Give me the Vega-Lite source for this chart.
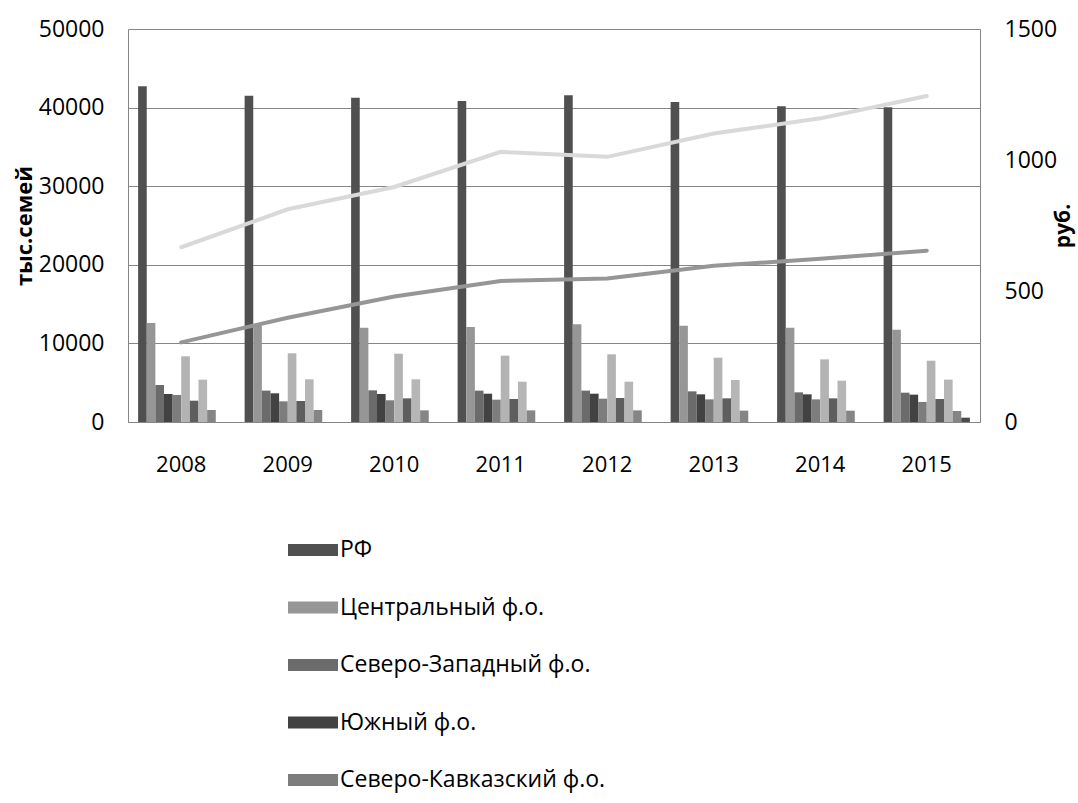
{
  "$schema": "https://vega.github.io/schema/vega-lite/v6.json",
  "autosize": {"type": "none"},
  "padding": {"left": 128, "top": 29, "right": 98, "bottom": 381},
  "width": 852,
  "height": 393,
  "background": "white",
  "config": {
    "font": "Open Sans",
    "view": {"stroke": null},
    "axis": {
      "labelColor": "#000000",
      "titleColor": "#000000",
      "domainColor": "#868686",
      "gridColor": "#868686",
      "ticks": false
    }
  },
  "datasets": {
    "bars": [
      {"year": "2008", "district": "РФ", "families": 42710},
      {"year": "2008", "district": "Центральный ф.о.", "families": 12600},
      {"year": "2008", "district": "Северо-Западный ф.о.", "families": 4710},
      {"year": "2008", "district": "Южный ф.о.", "families": 3560},
      {"year": "2008", "district": "Северо-Кавказский ф.о.", "families": 3440},
      {"year": "2008", "district": "Приволжский ф.о.", "families": 8360},
      {"year": "2008", "district": "Уральский ф.о.", "families": 2710},
      {"year": "2008", "district": "Сибирский ф.о.", "families": 5390},
      {"year": "2008", "district": "Дальневосточный ф.о.", "families": 1530},

      {"year": "2009", "district": "РФ", "families": 41520},
      {"year": "2009", "district": "Центральный ф.о.", "families": 12260},
      {"year": "2009", "district": "Северо-Западный ф.о.", "families": 3990},
      {"year": "2009", "district": "Южный ф.о.", "families": 3650},
      {"year": "2009", "district": "Северо-Кавказский ф.о.", "families": 2630},
      {"year": "2009", "district": "Приволжский ф.о.", "families": 8740},
      {"year": "2009", "district": "Уральский ф.о.", "families": 2670},
      {"year": "2009", "district": "Сибирский ф.о.", "families": 5430},
      {"year": "2009", "district": "Дальневосточный ф.о.", "families": 1530},

      {"year": "2010", "district": "РФ", "families": 41260},
      {"year": "2010", "district": "Центральный ф.о.", "families": 12000},
      {"year": "2010", "district": "Северо-Западный ф.о.", "families": 4030},
      {"year": "2010", "district": "Южный ф.о.", "families": 3560},
      {"year": "2010", "district": "Северо-Кавказский ф.о.", "families": 2760},
      {"year": "2010", "district": "Приволжский ф.о.", "families": 8690},
      {"year": "2010", "district": "Уральский ф.о.", "families": 3010},
      {"year": "2010", "district": "Сибирский ф.о.", "families": 5430},
      {"year": "2010", "district": "Дальневосточный ф.о.", "families": 1480},

      {"year": "2011", "district": "РФ", "families": 40840},
      {"year": "2011", "district": "Центральный ф.о.", "families": 12090},
      {"year": "2011", "district": "Северо-Западный ф.о.", "families": 3990},
      {"year": "2011", "district": "Южный ф.о.", "families": 3600},
      {"year": "2011", "district": "Северо-Кавказский ф.о.", "families": 2840},
      {"year": "2011", "district": "Приволжский ф.о.", "families": 8440},
      {"year": "2011", "district": "Уральский ф.о.", "families": 2930},
      {"year": "2011", "district": "Сибирский ф.о.", "families": 5130},
      {"year": "2011", "district": "Дальневосточный ф.о.", "families": 1480},

      {"year": "2012", "district": "РФ", "families": 41560},
      {"year": "2012", "district": "Центральный ф.о.", "families": 12430},
      {"year": "2012", "district": "Северо-Западный ф.о.", "families": 3990},
      {"year": "2012", "district": "Южный ф.о.", "families": 3600},
      {"year": "2012", "district": "Северо-Кавказский ф.о.", "families": 2970},
      {"year": "2012", "district": "Приволжский ф.о.", "families": 8610},
      {"year": "2012", "district": "Уральский ф.о.", "families": 3050},
      {"year": "2012", "district": "Сибирский ф.о.", "families": 5130},
      {"year": "2012", "district": "Дальневосточный ф.о.", "families": 1480},

      {"year": "2013", "district": "РФ", "families": 40710},
      {"year": "2013", "district": "Центральный ф.о.", "families": 12250},
      {"year": "2013", "district": "Северо-Западный ф.о.", "families": 3900},
      {"year": "2013", "district": "Южный ф.о.", "families": 3520},
      {"year": "2013", "district": "Северо-Кавказский ф.о.", "families": 2880},
      {"year": "2013", "district": "Приволжский ф.о.", "families": 8180},
      {"year": "2013", "district": "Уральский ф.о.", "families": 3010},
      {"year": "2013", "district": "Сибирский ф.о.", "families": 5340},
      {"year": "2013", "district": "Дальневосточный ф.о.", "families": 1440},

      {"year": "2014", "district": "РФ", "families": 40160},
      {"year": "2014", "district": "Центральный ф.о.", "families": 12000},
      {"year": "2014", "district": "Северо-Западный ф.о.", "families": 3770},
      {"year": "2014", "district": "Южный ф.о.", "families": 3520},
      {"year": "2014", "district": "Северо-Кавказский ф.о.", "families": 2880},
      {"year": "2014", "district": "Приволжский ф.о.", "families": 7970},
      {"year": "2014", "district": "Уральский ф.о.", "families": 3010},
      {"year": "2014", "district": "Сибирский ф.о.", "families": 5260},
      {"year": "2014", "district": "Дальневосточный ф.о.", "families": 1440},

      {"year": "2015", "district": "РФ", "families": 40030},
      {"year": "2015", "district": "Центральный ф.о.", "families": 11750},
      {"year": "2015", "district": "Северо-Западный ф.о.", "families": 3730},
      {"year": "2015", "district": "Южный ф.о.", "families": 3480},
      {"year": "2015", "district": "Северо-Кавказский ф.о.", "families": 2550},
      {"year": "2015", "district": "Приволжский ф.о.", "families": 7800},
      {"year": "2015", "district": "Уральский ф.о.", "families": 2930},
      {"year": "2015", "district": "Сибирский ф.о.", "families": 5390},
      {"year": "2015", "district": "Дальневосточный ф.о.", "families": 1400},
      {"year": "2015", "district": "Крымский ф.о.", "families": 550}
    ],
    "lines": [
      {"year": "2008", "series": "Ряд A", "rub": 667},
      {"year": "2009", "series": "Ряд A", "rub": 812},
      {"year": "2010", "series": "Ряд A", "rub": 897},
      {"year": "2011", "series": "Ряд A", "rub": 1031},
      {"year": "2012", "series": "Ряд A", "rub": 1012},
      {"year": "2013", "series": "Ряд A", "rub": 1101},
      {"year": "2014", "series": "Ряд A", "rub": 1159},
      {"year": "2015", "series": "Ряд A", "rub": 1244},
      {"year": "2008", "series": "Ряд B", "rub": 304},
      {"year": "2009", "series": "Ряд B", "rub": 398},
      {"year": "2010", "series": "Ряд B", "rub": 479},
      {"year": "2011", "series": "Ряд B", "rub": 538},
      {"year": "2012", "series": "Ряд B", "rub": 548},
      {"year": "2013", "series": "Ряд B", "rub": 596},
      {"year": "2014", "series": "Ряд B", "rub": 623},
      {"year": "2015", "series": "Ряд B", "rub": 654}
    ]
  },
  "layer": [
    {
      "data": {"name": "bars"},
      "mark": {"type": "bar"},
      "encoding": {
        "x": {
          "field": "year",
          "type": "ordinal",
          "scale": {"paddingInner": 0.19, "paddingOuter": 0.095},
          "axis": {
            "title": null,
            "labelAngle": 0,
            "labelFontSize": 22,
            "labelPadding": 32,
            "domainColor": "#868686"
          }
        },
        "xOffset": {
          "field": "district",
          "type": "nominal",
          "scale": {
            "domain": ["РФ", "Центральный ф.о.", "Северо-Западный ф.о.", "Южный ф.о.", "Северо-Кавказский ф.о.", "Приволжский ф.о.", "Уральский ф.о.", "Сибирский ф.о.", "Дальневосточный ф.о.", "Крымский ф.о."],
            "paddingInner": 0,
            "paddingOuter": 0
          }
        },
        "y": {
          "field": "families",
          "type": "quantitative",
          "scale": {"domain": [0, 50000], "nice": false},
          "axis": {
            "values": [0, 10000, 20000, 30000, 40000, 50000],
            "format": "d",
            "grid": true,
            "labelFontSize": 23,
            "labelPadding": 24,
            "title": "тыс.семей",
            "titleFontSize": 22,
            "titleFontWeight": "bold",
            "titlePadding": 2
          }
        },
        "color": {
          "field": "district",
          "type": "nominal",
          "scale": {
            "domain": ["РФ", "Центральный ф.о.", "Северо-Западный ф.о.", "Южный ф.о.", "Северо-Кавказский ф.о.", "Приволжский ф.о.", "Уральский ф.о.", "Сибирский ф.о.", "Дальневосточный ф.о.", "Крымский ф.о."],
            "range": ["#505050", "#969696", "#6b6b6b", "#424242", "#7d7d7d", "#b3b3b3", "#5e5e5e", "#b6b6b6", "#858585", "#4a4a4a"]
          },
          "legend": {
            "orient": "none",
            "legendX": 160,
            "legendY": 496,
            "title": null,
            "direction": "vertical",
            "padding": 0,
            "values": ["РФ", "Центральный ф.о.", "Северо-Западный ф.о.", "Южный ф.о.", "Северо-Кавказский ф.о."],
            "symbolType": "M-1,-0.24H1V0.24H-1Z",
            "symbolSize": 2500,
            "symbolStrokeWidth": 0,
            "symbolOffset": 0,
            "labelOffset": 2,
            "labelFontSize": 23,
            "labelColor": "#000000",
            "labelLimit": 500,
            "rowPadding": 20.5
          }
        }
      }
    },
    {
      "data": {"name": "lines"},
      "mark": {"type": "line", "strokeWidth": 4, "strokeCap": "round"},
      "encoding": {
        "x": {"field": "year", "type": "ordinal"},
        "y": {
          "field": "rub",
          "type": "quantitative",
          "scale": {"domain": [0, 1500], "nice": false},
          "axis": {
            "orient": "right",
            "values": [0, 500, 1000, 1500],
            "format": "d",
            "grid": false,
            "labelFontSize": 23,
            "labelPadding": 24,
            "title": "руб.",
            "titleAngle": 270,
            "titleFontSize": 21,
            "titleFontWeight": "bold",
            "titlePadding": 17
          }
        },
        "stroke": {
          "field": "series",
          "type": "nominal",
          "scale": {"domain": ["Ряд A", "Ряд B"], "range": ["#d9d9d9", "#969696"]},
          "legend": null
        }
      }
    }
  ],
  "resolve": {"scale": {"y": "independent"}}
}
